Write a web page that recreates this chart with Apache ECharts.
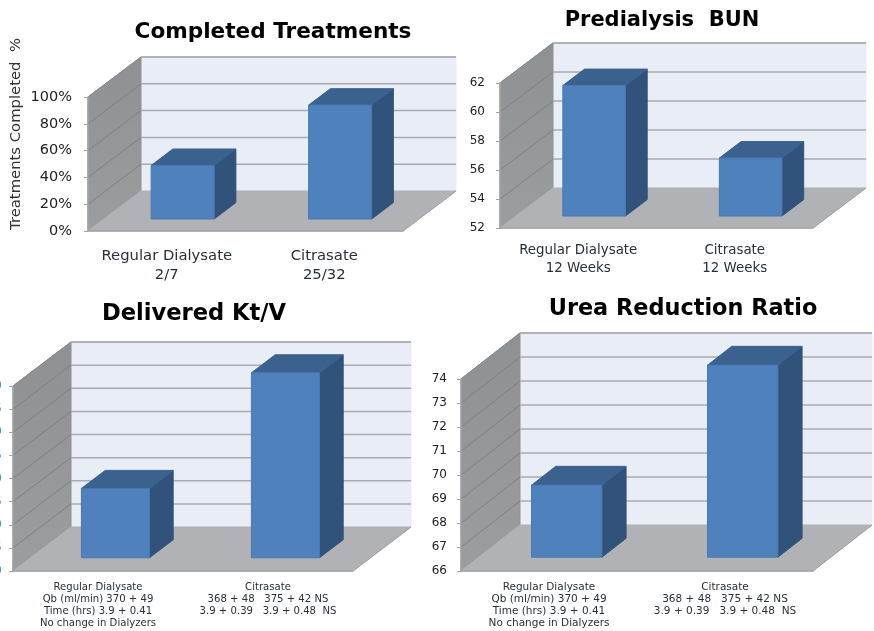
<!DOCTYPE html>
<html>
<head>
<meta charset="utf-8">
<style>
  html, body { margin: 0; padding: 0; background: #fff; }
  #chart { width: 874px; height: 631px; }
</style>
<script src="https://cdn.jsdelivr.net/npm/echarts@6/dist/echarts.min.js"></script>
</head>
<body>
<div id="chart"></div>
<script>
const completedTitle = "Completed Treatments";
const completedCategories = ["Regular Dialysate\n2/7", "Citrasate\n25/32"];
const completedValues = [40, 85];
const completedGridlines = [20, 40, 60, 80, 100];

const bunTitle = "Predialysis  BUN";
const bunCategories = ["Regular Dialysate\n12 Weeks", "Citrasate\n12 Weeks"];
const bunValues = [61, 56];
const bunGridlines = [54, 56, 58, 60, 62];

const ktvTitle = "Delivered Kt/V";
const ktvCategories = [
  "Regular Dialysate\nQb (ml/min) 370 + 49\nTime (hrs) 3.9 + 0.41\nNo change in Dialyzers",
  "Citrasate\n368 + 48   375 + 42 NS\n3.9 + 0.39   3.9 + 0.48  NS\n "
];
const ktvValues = [1.45, 1.7];
const ktvGridlines = [1.35, 1.4, 1.45, 1.5, 1.55, 1.6, 1.65, 1.7];

const ureaTitle = "Urea Reduction Ratio";
const ureaCategories = ktvCategories;
const ureaValues = [69, 74];
const ureaGridlines = [67, 68, 69, 70, 71, 72, 73, 74];

const yAxisTitle = "Treatments Completed  %";

const panels = [
  {
    title: completedTitle, titleX: 273, titleY: 21, titleFont: 21.6,
    categories: completedCategories, values: completedValues, gridlines: completedGridlines,
    left: 88, top: 97, width: 315, height: 134, dx: 53, dy: 40,
    min: 0, max: 100, interval: 20, format: "{value}%",
    tickFont: 14.5, tickColor: "#222", tickMargin: 16,
    catFont: 14.8, catLine: 19, catMargin: 16
  },
  {
    title: bunTitle, titleX: 662, titleY: 10, titleFont: 21,
    categories: bunCategories, values: bunValues, gridlines: bunGridlines,
    left: 500, top: 83, width: 313, height: 145, dx: 53, dy: 40,
    min: 52, max: 62, interval: 2, format: "{value}",
    tickFont: 12, tickColor: "#222", tickMargin: 15,
    catFont: 13.4, catLine: 18, catMargin: 14
  },
  {
    title: ktvTitle, titleX: 194, titleY: 303, titleFont: 22.6,
    categories: ktvCategories, values: ktvValues, gridlines: ktvGridlines,
    left: 13, top: 386, width: 340, height: 185, dx: 58, dy: 44,
    min: 1.3, max: 1.7, interval: 0.05, format: v => v.toFixed(2),
    tickFont: 12, tickColor: "#3f9be0", tickMargin: 11,
    catFont: 10.1, catLine: 12, catMargin: 10
  },
  {
    title: ureaTitle, titleX: 683, titleY: 298, titleFont: 22.4,
    categories: ureaCategories, values: ureaValues, gridlines: ureaGridlines,
    left: 461, top: 379, width: 352, height: 192, dx: 59, dy: 46,
    min: 66, max: 74, interval: 1, format: "{value}",
    tickFont: 12, tickColor: "#222", tickMargin: 14,
    catFont: 10.5, catLine: 12, catMargin: 10
  }
];

const FONT = "'DejaVu Sans', sans-serif";
const AXIS_COLOR = "#a3a4a7";

function poly(points, fill, stroke) {
  return {
    type: "polygon",
    shape: { points },
    style: { fill, stroke: stroke || fill, lineWidth: 1 }
  };
}

function renderWalls(panel) {
  return params => {
    const { x, y, width, height } = params.coordSys;
    const { dx, dy } = panel;
    const bottom = y + height;
    return {
      type: "group",
      children: [
        poly(
          [[x + dx, y - dy], [x + width + dx, y - dy], [x + width + dx, bottom - dy], [x + dx, bottom - dy]],
          "#e8edf6"
        ),
        poly([[x, y], [x + dx, y - dy], [x + dx, bottom - dy], [x, bottom]], {
          type: "linear", x: 0, y: 0, x2: 0, y2: 1,
          colorStops: [{ offset: 0, color: "#8e9194" }, { offset: 1, color: "#9b9d9f" }]
        }, "#8e9194"),
        poly([[x, bottom], [x + dx, bottom - dy], [x + width + dx, bottom - dy], [x + width, bottom]], "#b0b2b6"),
        {
          type: "polyline",
          shape: { points: [[x + dx, y - dy], [x + width + dx, y - dy]] },
          style: { fill: "none", stroke: "#b4b6ba", lineWidth: 1.5 }
        },
        {
          type: "line",
          shape: { x1: x, y1: y, x2: x + dx, y2: y - dy },
          style: { stroke: "#b4b6ba", lineWidth: 1 }
        },
        {
          type: "line",
          shape: { x1: x + width, y1: bottom, x2: x + width + dx, y2: bottom - dy },
          style: { stroke: "#a0a2a5", lineWidth: 1 }
        }
      ]
    };
  };
}

function renderGridline(panel) {
  return (params, api) => {
    const { x, width } = params.coordSys;
    const { dx, dy } = panel;
    const y = api.coord([0, api.value(1)])[1];
    return {
      type: "group",
      children: [
        {
          type: "line",
          shape: { x1: x, y1: y, x2: x + dx, y2: y - dy },
          style: { stroke: "#7f8285", lineWidth: 1 }
        },
        {
          type: "line",
          shape: { x1: x + dx, y1: y - dy, x2: x + width + dx, y2: y - dy },
          style: { stroke: "#a9abb1", lineWidth: 1.5 }
        }
      ]
    };
  };
}

function renderBar(panel) {
  return (params, api) => {
    const idx = api.value(0);
    const top = api.coord([idx, api.value(1)]);
    const base = api.coord([idx, panel.min]);
    const w = api.size([1, 0])[0] * 0.4;
    const x0 = top[0] - w / 2 + panel.dx * 0.3;
    const x1 = x0 + w;
    const y0 = top[1] - panel.dy * 0.3;
    const y1 = base[1] - panel.dy * 0.3;
    const sx = panel.dx * 0.41;
    const sy = panel.dy * 0.41;
    return {
      type: "group",
      children: [
        poly([[x1, y0], [x1 + sx, y0 - sy], [x1 + sx, y1 - sy], [x1, y1]], "#31527b"),
        poly([[x0, y0], [x0 + sx, y0 - sy], [x1 + sx, y0 - sy], [x1, y0]], "#3b618e"),
        poly([[x0, y0], [x1, y0], [x1, y1], [x0, y1]], "#4f81bd", "#4a78b2")
      ]
    };
  };
}

const option = {
  animation: false,
  backgroundColor: "#fff",
  textStyle: { fontFamily: FONT },
  title: panels.map(p => ({
    text: p.title,
    left: p.titleX,
    top: p.titleY,
    padding: 0,
    textAlign: "center",
    textStyle: { fontFamily: FONT, fontSize: p.titleFont, fontWeight: "bold", color: "#000" }
  })),
  grid: panels.map(p => ({
    left: p.left,
    top: p.top,
    width: p.width,
    height: p.height,
    outerBoundsMode: "none"
  })),
  xAxis: panels.map((p, i) => ({
    type: "category",
    gridIndex: i,
    data: p.categories,
    z: 5,
    axisLine: { show: true, lineStyle: { color: AXIS_COLOR, width: 1.5 } },
    axisTick: { show: false },
    axisLabel: {
      interval: 0,
      margin: p.catMargin,
      fontFamily: FONT,
      fontSize: p.catFont,
      lineHeight: p.catLine,
      color: "#26303a"
    }
  })),
  yAxis: panels.map((p, i) => ({
    type: "value",
    gridIndex: i,
    min: p.min,
    max: p.max,
    interval: p.interval,
    z: 5,
    splitLine: { show: false },
    axisLine: { show: true, lineStyle: { color: AXIS_COLOR, width: 1.5 } },
    axisTick: { show: true, length: 4, lineStyle: { color: AXIS_COLOR, width: 1 } },
    axisLabel: {
      formatter: p.format,
      margin: p.tickMargin,
      fontFamily: FONT,
      fontSize: p.tickFont,
      color: p.tickColor
    }
  })),
  series: panels.flatMap((p, i) => [
    {
      type: "custom",
      xAxisIndex: i,
      yAxisIndex: i,
      z: 1,
      silent: true,
      renderItem: renderWalls(p),
      data: [[0, p.min]]
    },
    {
      type: "custom",
      xAxisIndex: i,
      yAxisIndex: i,
      z: 2,
      silent: true,
      renderItem: renderGridline(p),
      data: p.gridlines.map(v => [0, v])
    },
    {
      type: "custom",
      xAxisIndex: i,
      yAxisIndex: i,
      z: 3,
      renderItem: renderBar(p),
      encode: { x: 0, y: 1 },
      data: p.values.map((v, idx) => [idx, v])
    }
  ]),
  graphic: [
    {
      type: "text",
      x: 16,
      y: 134,
      rotation: Math.PI / 2,
      style: {
        text: yAxisTitle,
        fontFamily: FONT,
        fontSize: 14.8,
        fill: "#333",
        align: "center",
        verticalAlign: "middle"
      }
    }
  ]
};

const chart = echarts.init(document.getElementById("chart"));
chart.setOption(option);
</script>
</body>
</html>
